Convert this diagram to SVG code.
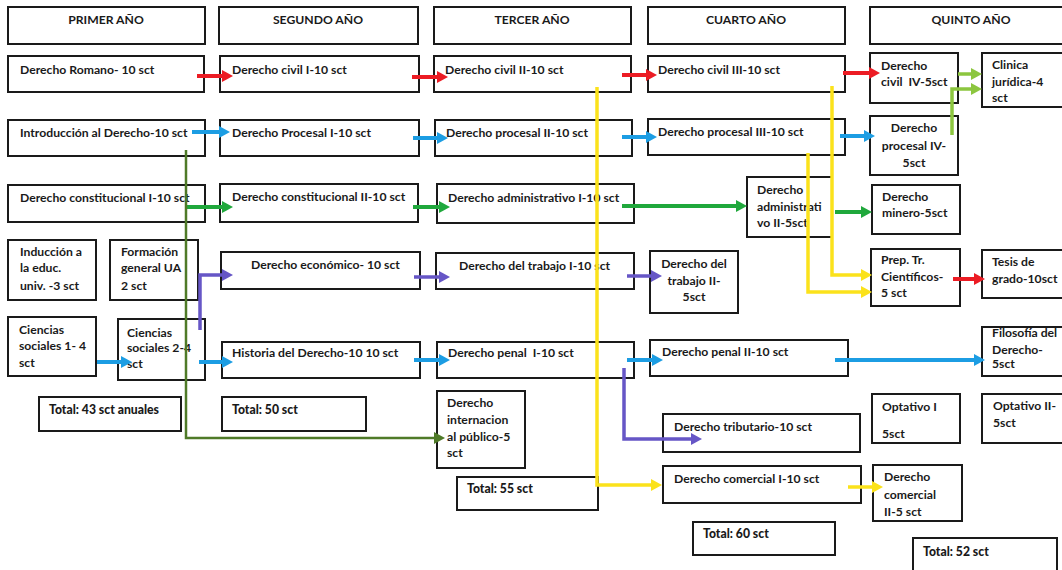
<svg xmlns="http://www.w3.org/2000/svg" width="1062" height="570" viewBox="0 0 1062 570">
<style>
.box{fill:#fff;stroke:#1a1a1a;stroke-width:2}
text{font-family:Lato,"Liberation Sans",sans-serif;font-size:12.2px;font-weight:bold;fill:#1a1a1a}
.m{text-anchor:middle}
.tot{font-weight:900}
.cn{fill:none;stroke-linejoin:miter}
.red{stroke:#ec1c24;stroke-width:4}
.blue{stroke:#1c9de3;stroke-width:4}
.green{stroke:#20a83c;stroke-width:4}
.purple{stroke:#6656c6;stroke-width:3.5}
.yellow{stroke:#fbe21b;stroke-width:3.5}
.lgreen{stroke:#8cc63f;stroke-width:3.5}
.olive{stroke:#4f7a28;stroke-width:2.5}
</style>
<defs>
<marker id="aRed" markerUnits="userSpaceOnUse" markerWidth="11" markerHeight="12" refX="4" refY="6" orient="auto"><path d="M0,0 L11,6 L0,12 z" fill="#ec1c24"/></marker>
<marker id="aBlue" markerUnits="userSpaceOnUse" markerWidth="11" markerHeight="12" refX="4" refY="6" orient="auto"><path d="M0,0 L11,6 L0,12 z" fill="#1c9de3"/></marker>
<marker id="aGreen" markerUnits="userSpaceOnUse" markerWidth="11" markerHeight="12" refX="4" refY="6" orient="auto"><path d="M0,0 L11,6 L0,12 z" fill="#20a83c"/></marker>
<marker id="aPurple" markerUnits="userSpaceOnUse" markerWidth="11" markerHeight="12" refX="4" refY="6" orient="auto"><path d="M0,0 L11,6 L0,12 z" fill="#6656c6"/></marker>
<marker id="aYellow" markerUnits="userSpaceOnUse" markerWidth="11" markerHeight="12" refX="4" refY="6" orient="auto"><path d="M0,0 L11,6 L0,12 z" fill="#fbe21b"/></marker>
<marker id="aLgreen" markerUnits="userSpaceOnUse" markerWidth="11" markerHeight="12" refX="4" refY="6" orient="auto"><path d="M0,0 L11,6 L0,12 z" fill="#8cc63f"/></marker>
<marker id="aOlive" markerUnits="userSpaceOnUse" markerWidth="11" markerHeight="12" refX="4" refY="6" orient="auto"><path d="M0,0 L11,6 L0,12 z" fill="#4f7a28"/></marker>
</defs>
<rect width="1062" height="570" fill="#fff"/>
<g id="headers">
<g id="h1"><rect class="box" x="8" y="7" width="197" height="37"/><text class="m" x="106" y="24">PRIMER AÑO</text></g>
<g id="h2"><rect class="box" x="219" y="7" width="199" height="37"/><text class="m" x="318" y="24">SEGUNDO AÑO</text></g>
<g id="h3"><rect class="box" x="434" y="7" width="197" height="37"/><text class="m" x="532" y="24">TERCER AÑO</text></g>
<g id="h4"><rect class="box" x="648" y="7" width="197" height="37"/><text class="m" x="746" y="24">CUARTO AÑO</text></g>
<g id="h5"><rect class="box" x="870" y="7" width="200" height="37"/><text class="m" x="971" y="24">QUINTO AÑO</text></g>
</g>
<g id="nodes">
<g id="romano"><rect class="box" x="8" y="56" width="196" height="36"/><text x="20" y="74">Derecho Romano- 10 sct</text></g>
<g id="civil1"><rect class="box" x="220" y="56" width="199" height="36"/><text x="232" y="74">Derecho civil I-10 sct</text></g>
<g id="civil2"><rect class="box" x="434" y="56" width="197" height="36"/><text x="445" y="74">Derecho civil II-10 sct</text></g>
<g id="civil3"><rect class="box" x="648" y="56" width="197" height="36"/><text x="658" y="74">Derecho civil III-10 sct</text></g>
<g id="civil4"><rect class="box" x="870" y="53" width="88" height="50"/><text x="881" y="70">Derecho</text><text x="881" y="86" xml:space="preserve">civil  IV-5sct</text></g>
<g id="clinica"><rect class="box" x="982" y="53" width="90" height="54"/><text x="992" y="69">Clinica</text><text x="992" y="86">jurídica-4</text><text x="992" y="102">sct</text></g>

<g id="intro"><rect class="box" x="8" y="120" width="197" height="36"/><text x="20" y="137">Introducción al Derecho-10 sct</text></g>
<g id="procesal1"><rect class="box" x="220" y="120" width="199" height="36"/><text x="232" y="137">Derecho Procesal I-10 sct</text></g>
<g id="procesal2"><rect class="box" x="435" y="120" width="197" height="36"/><text x="446" y="137">Derecho procesal II-10 sct</text></g>
<g id="procesal3"><rect class="box" x="648" y="119" width="197" height="36"/><text x="658" y="136">Derecho procesal III-10 sct</text></g>
<g id="procesal4"><rect class="box" x="870" y="116" width="88" height="59"/><text class="m" x="914" y="132">Derecho</text><text class="m" x="914" y="150">procesal IV-</text><text class="m" x="914" y="167">5sct</text></g>

<g id="const1"><rect class="box" x="8" y="185" width="197" height="37"/><text x="20" y="202">Derecho constitucional I-10 sct</text></g>
<g id="const2"><rect class="box" x="220" y="184" width="198" height="38"/><text x="232" y="201">Derecho constitucional II-10 sct</text></g>
<g id="admin1"><rect class="box" x="437" y="184" width="197" height="39"/><text x="448" y="202">Derecho administrativo I-10 sct</text></g>
<g id="admin2"><rect class="box" x="747" y="177" width="85" height="60"/><text x="757" y="194">Derecho</text><text x="757" y="211">administrati</text><text x="757" y="227">vo II-5sct</text></g>
<g id="minero"><rect class="box" x="872" y="185" width="88" height="49"/><text x="882" y="201">Derecho</text><text x="882" y="217">minero-5sct</text></g>

<g id="induccion"><rect class="box" x="8" y="240" width="88" height="60"/><text x="20" y="256">Inducción a</text><text x="20" y="272">la educ.</text><text x="20" y="290">univ. -3 sct</text></g>
<g id="formacion"><rect class="box" x="110" y="240" width="88" height="60"/><text x="121" y="256">Formación</text><text x="121" y="272">general UA</text><text x="121" y="290">2 sct</text></g>
<g id="economico"><rect class="box" x="221" y="252" width="199" height="37"/><text x="251" y="269">Derecho económico- 10 sct</text></g>
<g id="trabajo1"><rect class="box" x="436" y="253" width="198" height="36"/><text x="459" y="270">Derecho del trabajo I-10 sct</text></g>
<g id="trabajo2"><rect class="box" x="650" y="251" width="88" height="62"/><text class="m" x="694" y="268">Derecho del</text><text class="m" x="694" y="285">trabajo II-</text><text class="m" x="694" y="301">5sct</text></g>
<g id="prep"><rect class="box" x="871" y="249" width="89" height="57"/><text x="881" y="264">Prep. Tr.</text><text x="881" y="281">Científicos-</text><text x="881" y="297">5 sct</text></g>
<g id="tesis"><rect class="box" x="982" y="250" width="90" height="48"/><text x="992" y="266">Tesis de</text><text x="992" y="283">grado-10sct</text></g>

<g id="cs1"><rect class="box" x="8" y="317" width="88" height="59"/><text x="19" y="334">Ciencias</text><text x="19" y="350">sociales 1- 4</text><text x="19" y="367">sct</text></g>
<g id="cs2"><rect class="box" x="118" y="319" width="87" height="61"/><text x="127" y="337">Ciencias</text><text x="127" y="352">sociales 2-4</text><text x="127" y="368">sct</text></g>
<g id="historia"><rect class="box" x="222" y="342" width="198" height="36"/><text x="232" y="357">Historia del Derecho-10 10 sct</text></g>
<g id="penal1"><rect class="box" x="437" y="342" width="197" height="36"/><text x="448" y="357" xml:space="preserve">Derecho penal  I-10 sct</text></g>
<g id="penal2"><rect class="box" x="650" y="340" width="198" height="36"/><text x="662" y="356">Derecho penal II-10 sct</text></g>
<g id="filosofia"><rect class="box" x="982" y="327" width="90" height="49"/><text x="992" y="337">Filosofía del</text><text x="992" y="354">Derecho-</text><text x="992" y="368">5sct</text></g>

<g id="total1"><rect class="box" x="39" y="397" width="142" height="34"/><text class="tot" x="49" y="414">Total: 43 sct anuales</text></g>
<g id="total2"><rect class="box" x="222" y="397" width="144" height="34"/><text class="tot" x="232" y="414">Total: 50 sct</text></g>
<g id="internacional"><rect class="box" x="437" y="391" width="88" height="77"/><text x="447" y="407">Derecho</text><text x="447" y="424">internacion</text><text x="447" y="441">al público-5</text><text x="447" y="457">sct</text></g>
<g id="total3"><rect class="box" x="457" y="477" width="141" height="33"/><text class="tot" x="467" y="493">Total: 55 sct</text></g>
<g id="tributario"><rect class="box" x="663" y="414" width="197" height="38"/><text x="674" y="431">Derecho tributario-10 sct</text></g>
<g id="comercial1"><rect class="box" x="663" y="466" width="198" height="37"/><text x="674" y="483">Derecho comercial I-10 sct</text></g>
<g id="total4"><rect class="box" x="693" y="522" width="142" height="33"/><text class="tot" x="703" y="538">Total: 60 sct</text></g>
<g id="optativo1"><rect class="box" x="872" y="394" width="88" height="49"/><text x="882" y="411">Optativo I</text><text x="882" y="438">5sct</text></g>
<g id="optativo2"><rect class="box" x="982" y="394" width="90" height="49"/><text x="993" y="410">Optativo II-</text><text x="993" y="427">5sct</text></g>
<g id="comercial2"><rect class="box" x="873" y="465" width="89" height="56"/><text x="884" y="481">Derecho</text><text x="884" y="499">comercial</text><text x="884" y="516">II-5 sct</text></g>
<g id="total5"><rect class="box" x="913" y="538" width="144" height="40"/><text class="tot" x="923" y="556">Total: 52 sct</text></g>
</g>
<g id="connectors">
<path class="cn red" marker-end="url(#aRed)" d="M197,76 H226"/>
<path class="cn red" marker-end="url(#aRed)" d="M412,77 H441"/>
<path class="cn red" marker-end="url(#aRed)" d="M622,75 H650"/>
<path class="cn red" marker-end="url(#aRed)" d="M843,73 H873"/>
<path class="cn red" marker-end="url(#aRed)" d="M953,279 H978"/>
<path class="cn blue" marker-end="url(#aBlue)" d="M192,132 H223"/>
<path class="cn blue" marker-end="url(#aBlue)" d="M413,138 H441"/>
<path class="cn blue" marker-end="url(#aBlue)" d="M622,137 H650"/>
<path class="cn blue" marker-end="url(#aBlue)" d="M840,136 H868"/>
<path class="cn blue" marker-end="url(#aBlue)" d="M97,362 H125"/>
<path class="cn blue" marker-end="url(#aBlue)" d="M199,362 H226"/>
<path class="cn blue" marker-end="url(#aBlue)" d="M414,360 H443"/>
<path class="cn blue" marker-end="url(#aBlue)" d="M627,360 H656"/>
<path class="cn blue" marker-end="url(#aBlue)" d="M835,360 H978"/>
<path class="cn green" marker-end="url(#aGreen)" d="M185,207 H226"/>
<path class="cn green" marker-end="url(#aGreen)" d="M413,207 H443"/>
<path class="cn green" marker-end="url(#aGreen)" d="M622,206 H740"/>
<path class="cn green" marker-end="url(#aGreen)" d="M835,212 H865"/>
<path class="cn purple" marker-end="url(#aPurple)" d="M200,330 V275 H226"/>
<path class="cn purple" marker-end="url(#aPurple)" d="M414,277 H443"/>
<path class="cn purple" marker-end="url(#aPurple)" d="M627,276 H655"/>
<path class="cn purple" marker-end="url(#aPurple)" d="M624,368 V439 H695"/>
<path class="cn yellow" marker-end="url(#aYellow)" d="M597,87 V485 H655"/>
<path class="cn yellow" marker-end="url(#aYellow)" d="M832,86 V275 H865"/>
<path class="cn yellow" marker-end="url(#aYellow)" d="M808,153 V292 H865"/>
<path class="cn yellow" marker-end="url(#aYellow)" d="M848,487 H876"/>
<path class="cn lgreen" marker-end="url(#aLgreen)" d="M958,74 H975"/>
<path class="cn lgreen" marker-end="url(#aLgreen)" d="M952,135 V89 H975"/>
<path class="cn olive" marker-end="url(#aOlive)" d="M186,150 V438 H438"/>
</g>
</svg>
